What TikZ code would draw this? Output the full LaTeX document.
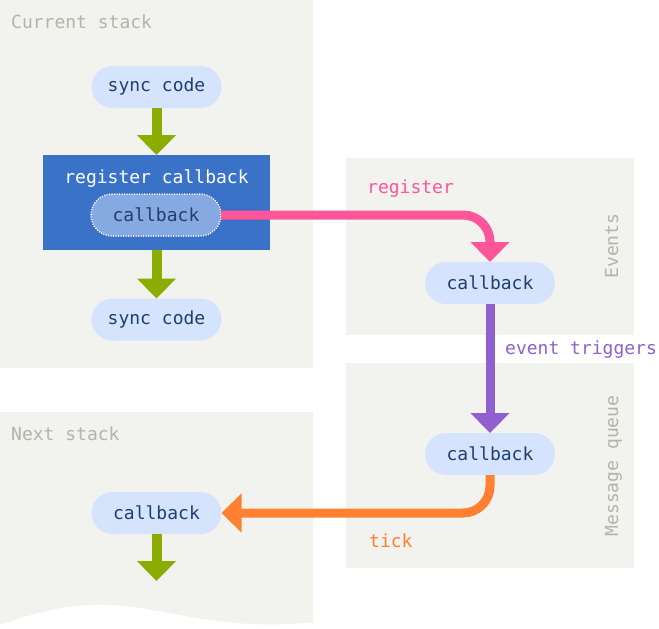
\documentclass[tikz,border=0pt]{standalone}
\usepackage{fontspec}
\setmonofont{DejaVu Sans Mono}
\usetikzlibrary{arrows.meta}
\definecolor{panel}{HTML}{F2F2EE}
\definecolor{cbfill}{HTML}{D5E4FC}
\definecolor{cbtext}{HTML}{1F3F70}
\definecolor{regblue}{HTML}{3A72C8}
\definecolor{innerblue}{HTML}{87A9E2}
\definecolor{flowgreen}{HTML}{8BAC00}
\definecolor{regpink}{HTML}{FF5599}
\definecolor{evpurple}{HTML}{9060D0}
\definecolor{tickorange}{HTML}{FF8030}
\definecolor{greytext}{HTML}{B4B4AA}

\begin{document}
\begin{tikzpicture}[x=1pt,y=-1pt,
	font=\ttfamily\fontsize{18}{21}\selectfont,
	cb/.style={rectangle,rounded corners=21pt,fill=cbfill,text=cbtext,
		minimum width=130pt,minimum height=42pt,inner sep=0pt,outer sep=0pt},
	regbox/.style={rectangle,fill=regblue,minimum width=227pt,
		minimum height=95pt,inner sep=0pt,outer sep=0pt},
	panelname/.style={text=greytext,anchor=base west,inner sep=0pt},
	sidename/.style={text=greytext,rotate=90,anchor=base,inner sep=0pt},
	flow/.style={draw=flowgreen,line width=10pt,
		-{Triangle[width=38pt,length=20pt]}},
	bigarrow/.style={line width=9pt,rounded corners=27pt,
		-{Triangle[width=38pt,length=20pt]}}]
	\useasboundingbox (0,0) rectangle (659,629);

	% panels
	\fill[panel] (0,0) rectangle (313,368);
	\fill[panel] (346,158) rectangle (634,335);
	\fill[panel] (346,363) rectangle (634,568);
	\fill[panel] (0,412) -- (313,412) -- (313,622)
		.. controls (220,632) and (170,608) .. (110,605)
		.. controls (80,603) and (40,610) .. (0,625) -- cycle;

	\node[panelname] (curname) at (11,28.5) {Current stack};
	\node[panelname] (nextname) at (11,440) {Next stack};
	\node[sidename] (evname) at (618,246) {Events};
	\node[sidename] (mqname) at (618,466) {Message queue};

	% current stack
	\node[cb] (sync1) at (156.5,87) {sync code};
	\node[regbox] (reg) at (156.5,202.5) {};
	\node[text=white] (regname) at (156.5,179) {register callback};
	\node[cb,fill=innerblue,draw=white,line width=1.5pt,
		dash pattern=on 1pt off 1.5pt] (cbin) at (156,215) {callback};
	\node[cb] (sync2) at (156.5,319.5) {sync code};

	% events and queue
	\node[cb] (cbev) at (490,283) {callback};
	\node[cb] (cbmq) at (490,454) {callback};

	% next stack
	\node[cb] (cbnext) at (156.5,513) {callback};
	\coordinate (nextend) at (156.5,581);

	\draw[flow] (sync1) -- (reg);
	\draw[flow] (reg) -- (sync2);
	\draw[flow] (cbnext) -- (nextend);

	\draw[bigarrow,draw=regpink] (cbin.east) -| (cbev.north);
	\draw[bigarrow,draw=evpurple,rounded corners=0pt] (cbev) -- (cbmq);
	\draw[bigarrow,draw=tickorange] (cbmq.south) |- (cbnext.east);

	\node[text=regpink,anchor=west,inner sep=0pt] (regtxt) at (367,189) {register};
	\node[text=evpurple,anchor=west,inner sep=0pt] (evtxt) at (505,350) {event triggers};
	\node[text=tickorange,anchor=west,inner sep=0pt] (ticktxt) at (369,541) {tick};
\end{tikzpicture}
\end{document}
